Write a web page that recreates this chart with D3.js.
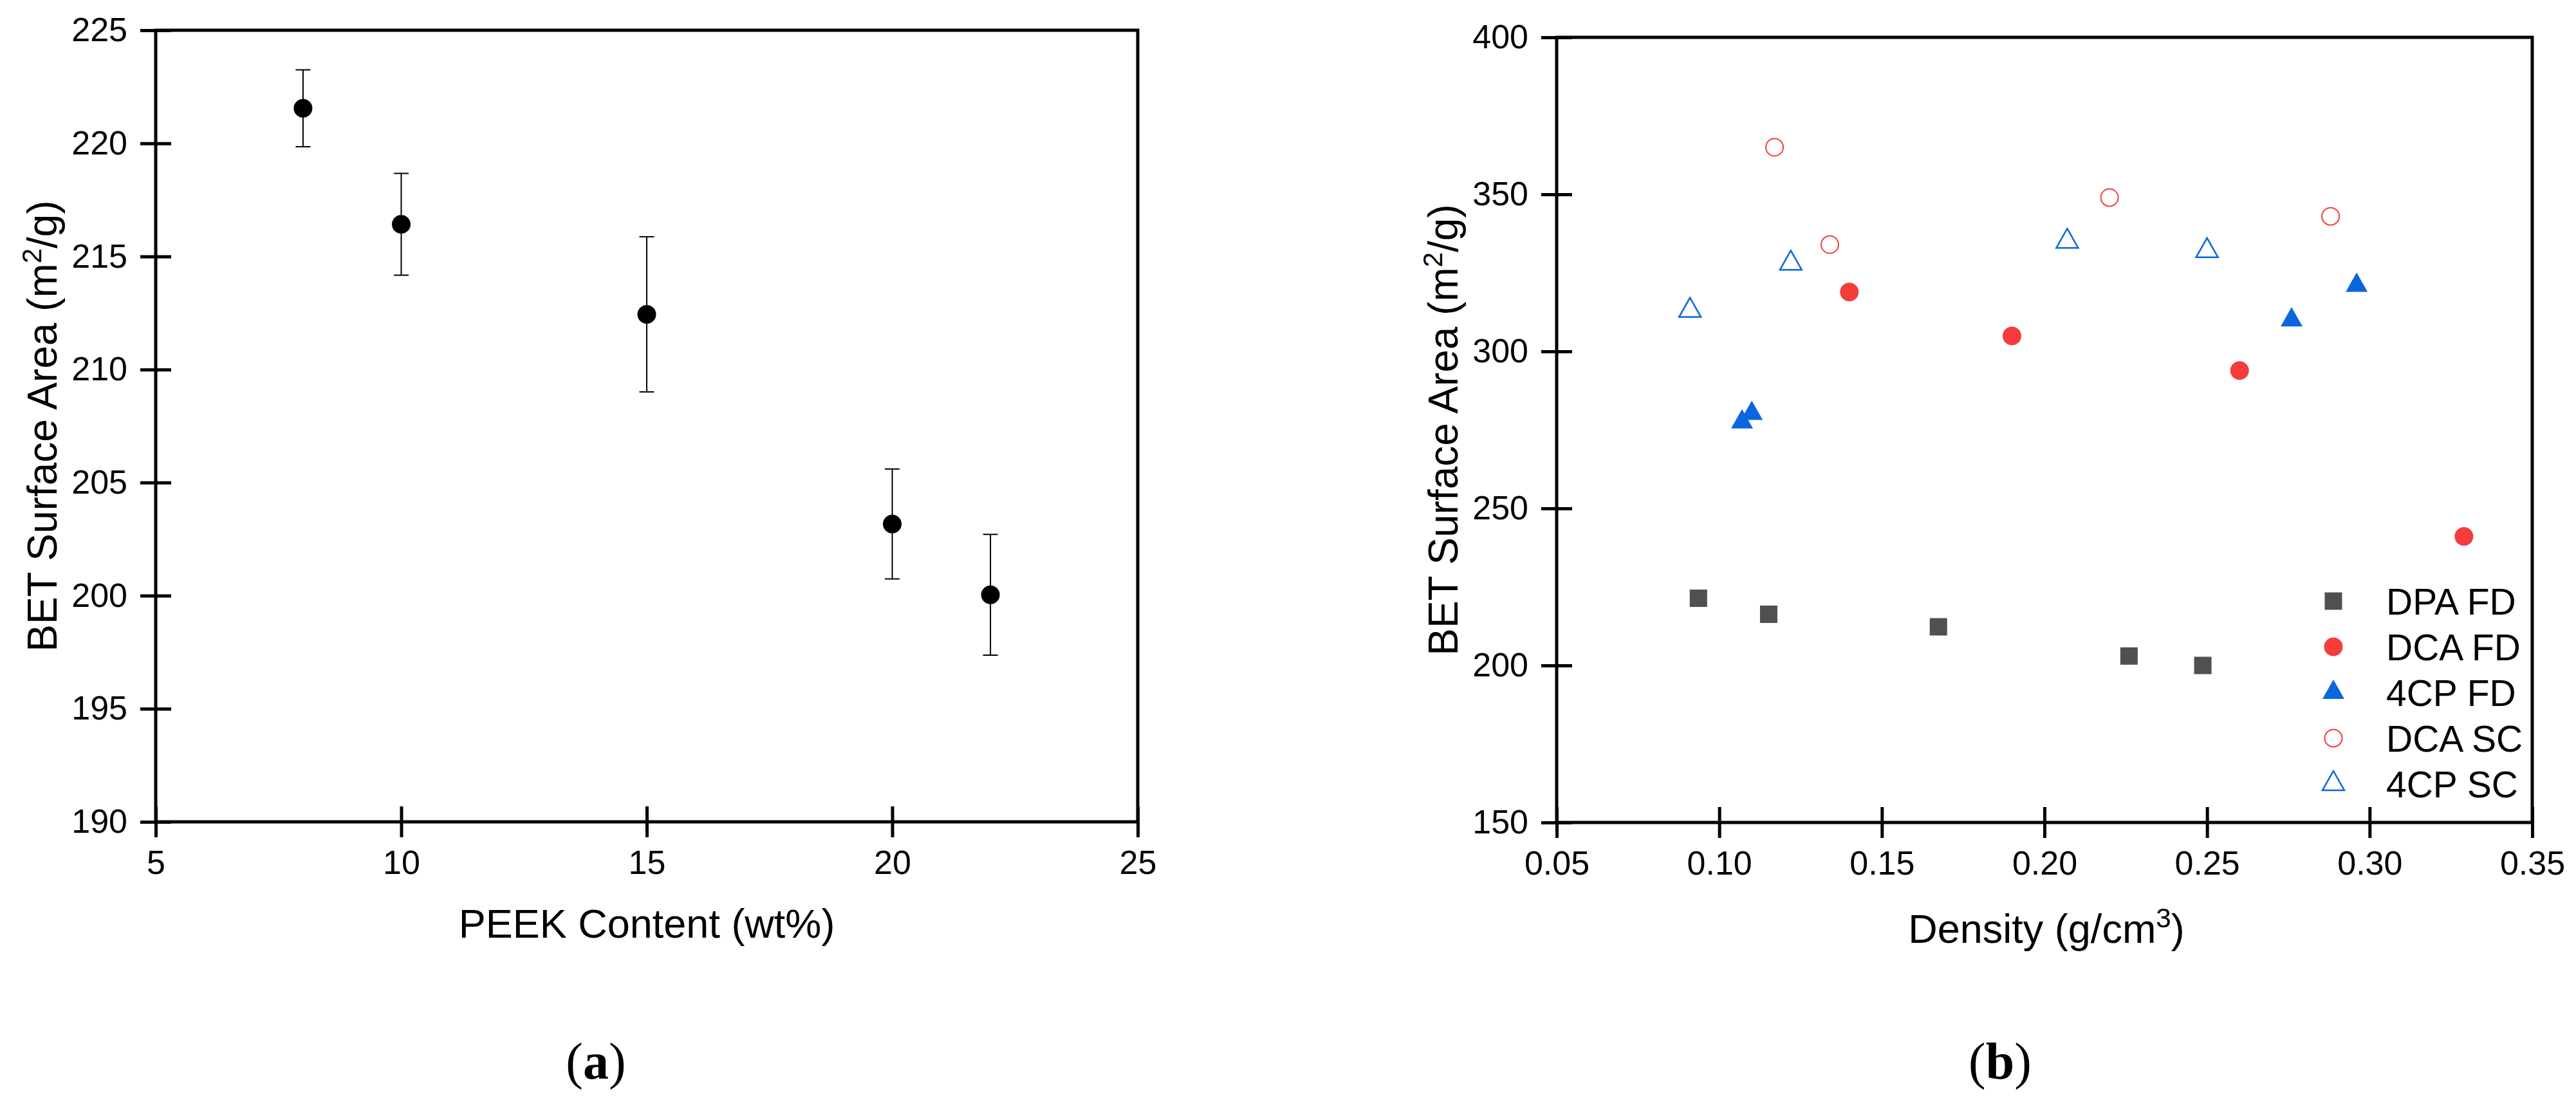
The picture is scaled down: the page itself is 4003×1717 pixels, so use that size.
<!DOCTYPE html>
<html><head><meta charset="utf-8">
<script src="https://cdn.jsdelivr.net/npm/d3@7"></script>
<style>
body{margin:0;background:#fff}
text{font-family:"Liberation Sans",Arial,sans-serif;fill:#000}
</style>
</head><body><svg id="c" width="4003" height="1717" xmlns="http://www.w3.org/2000/svg"></svg>
<script>
// ---------- data: panel (a) ----------
const peekContent = [8, 10, 15, 20, 22];
const peekBET     = [221.55, 216.42, 212.44, 203.17, 200.04];
const peekErr     = [1.70, 2.25, 3.43, 2.43, 2.67];
const xTicksA = [5, 10, 15, 20, 25];
const yTicksA = [190, 195, 200, 205, 210, 215, 220, 225];

// ---------- data: panel (b) ----------
const seriesNames = ["DPA FD", "DCA FD", "4CP FD", "DCA SC", "4CP SC"];
const dpaFdDensity = [0.0936, 0.1152, 0.1674, 0.226, 0.2487];
const dpaFdBET     = [221.4, 216.3, 212.3, 203.0, 200.0];
const dcaFdDensity = [0.140, 0.190, 0.260, 0.329];
const dcaFdBET     = [318.9, 304.9, 293.9, 241.1];
const cp4FdDensity = [0.107, 0.110, 0.276, 0.296];
const cp4FdBET     = [277.5, 280.2, 310.0, 321.0];
const dcaScDensity = [0.117, 0.134, 0.220, 0.288];
const dcaScBET     = [365.0, 334.0, 349.0, 343.0];
const cp4ScDensity = [0.091, 0.122, 0.207, 0.250];
const cp4ScBET     = [313.0, 328.0, 335.0, 332.0];
const xTicksB = [0.05, 0.10, 0.15, 0.20, 0.25, 0.30, 0.35];
const yTicksB = [150, 200, 250, 300, 350, 400];

const svg = d3.select("#c");
svg.append("rect").attr("width", 4003).attr("height", 1717).attr("fill", "#fff");

const TICK = 24, AXW = 5, TICKFS = 52;

function frame(g, x, y) {
  const [x0, x1] = x.range(), [y1, y0] = y.range();
  g.append("rect").attr("x", x0).attr("y", y0).attr("width", x1 - x0).attr("height", y1 - y0)
    .attr("fill", "none").attr("stroke", "#000").attr("stroke-width", AXW);
}
function axes(g, x, y, xt, yt, xf, yf) {
  const [y1] = y.range(), [x0] = x.range();
  const ax = g.append("g").attr("transform", `translate(0,${y1})`)
    .call(d3.axisBottom(x).tickValues(xt).tickFormat(xf).tickSize(TICK).tickPadding(20));
  ax.select(".domain").remove();
  ax.selectAll(".tick line").attr("y1", -TICK).attr("stroke-width", AXW);
  ax.selectAll("text").attr("font-size", TICKFS).attr("font-family", "Liberation Sans, Arial, sans-serif");
  const ay = g.append("g").attr("transform", `translate(${x0},0)`)
    .call(d3.axisLeft(y).tickValues(yt).tickFormat(yf).tickSize(TICK).tickPadding(20));
  ay.select(".domain").remove();
  ay.selectAll(".tick line").attr("x1", TICK).attr("stroke-width", AXW);
  ay.selectAll("text").attr("font-size", TICKFS).attr("font-family", "Liberation Sans, Arial, sans-serif");
}
function yLabel(g, xBase, yc) {
  const t = g.append("text").attr("transform", `translate(${xBase},${yc}) rotate(-90)`)
    .attr("text-anchor", "middle").attr("font-size", 64);
  t.append("tspan").text("BET Surface Area (m");
  t.append("tspan").attr("dy", -24).attr("font-size", 42).text("2");
  t.append("tspan").attr("dy", 24).text("/g)");
}

// ---------- panel (a) ----------
const gA = svg.append("g");
const xA = d3.scaleLinear().domain([5, 25]).range([242, 1768]);
const yA = d3.scaleLinear().domain([190, 225]).range([1277, 47]);
frame(gA, xA, yA);
axes(gA, xA, yA, xTicksA, yTicksA, d3.format("d"), d3.format("d"));

const ptsA = peekContent.map((c, i) => ({x: c, y: peekBET[i], e: peekErr[i]}));
const eb = gA.append("g").attr("stroke", "#000").attr("stroke-width", 2);
ptsA.forEach(d => {
  const cx = xA(d.x);
  eb.append("line").attr("x1", cx).attr("x2", cx).attr("y1", yA(d.y + d.e)).attr("y2", yA(d.y - d.e));
  eb.append("line").attr("x1", cx - 11.5).attr("x2", cx + 11.5).attr("y1", yA(d.y + d.e)).attr("y2", yA(d.y + d.e));
  eb.append("line").attr("x1", cx - 11.5).attr("x2", cx + 11.5).attr("y1", yA(d.y - d.e)).attr("y2", yA(d.y - d.e));
});
gA.append("g").selectAll("circle").data(ptsA).join("circle")
  .attr("cx", d => xA(d.x)).attr("cy", d => yA(d.y)).attr("r", 14.5).attr("fill", "#000");

yLabel(gA, 88, 662);
gA.append("text").attr("x", 1005).attr("y", 1457).attr("text-anchor", "middle").attr("font-size", 63)
  .text("PEEK Content (wt%)");
const la = gA.append("text").attr("x", 926).attr("y", 1676).attr("text-anchor", "middle")
  .attr("font-size", 80).style("font-family", "Liberation Serif, Times New Roman, serif");
la.append("tspan").text("(");
la.append("tspan").attr("font-weight", "bold").text("a");
la.append("tspan").text(")");

// ---------- panel (b) ----------
const gB = svg.append("g");
const xB = d3.scaleLinear().domain([0.05, 0.35]).range([2419, 3935]);
const yB = d3.scaleLinear().domain([150, 400]).range([1278, 58]);
frame(gB, xB, yB);
axes(gB, xB, yB, xTicksB, yTicksB, d3.format(".2f"), d3.format("d"));

const GREY = "#505050", RED = "#f43c3c", BLUE = "#0a66de";
const triPath = "M0,-20L17,10L-17,10Z";
const styles = [
  {kind: "square", fill: GREY, stroke: "none"},
  {kind: "circle", fill: RED, stroke: "none"},
  {kind: "tri", fill: BLUE, stroke: "none"},
  {kind: "circle", fill: "none", stroke: RED},
  {kind: "tri", fill: "none", stroke: BLUE}
];
const seriesX = [dpaFdDensity, dcaFdDensity, cp4FdDensity, dcaScDensity, cp4ScDensity];
const seriesY = [dpaFdBET, dcaFdBET, cp4FdBET, dcaScBET, cp4ScBET];

function marker(g, st, cx, cy) {
  if (st.kind === "square") {
    g.append("rect").attr("x", cx - 13.5).attr("y", cy - 13.5).attr("width", 27).attr("height", 27).attr("fill", st.fill);
  } else if (st.kind === "circle") {
    g.append("circle").attr("cx", cx).attr("cy", cy).attr("r", st.fill === "none" ? 13.5 : 14.5)
      .attr("fill", st.fill).attr("stroke", st.stroke).attr("stroke-width", 2);
  } else {
    g.append("path").attr("d", triPath).attr("transform", `translate(${cx},${cy})`)
      .attr("fill", st.fill).attr("stroke", st.stroke).attr("stroke-width", 2.5);
  }
}
const mk = gB.append("g");
seriesNames.forEach((name, s) => {
  seriesX[s].forEach((xv, i) => marker(mk, styles[s], xB(xv), yB(seriesY[s][i])));
});

// legend
const lg = gB.append("g");
seriesNames.forEach((name, s) => {
  const ry = 934 + s * 71;
  marker(lg, styles[s], 3626, ry);
  lg.append("text").attr("x", 3708).attr("y", ry + 20.5).attr("font-size", 57).text(name);
});

yLabel(gB, 2265, 668);
const xl = gB.append("text").attr("x", 3180).attr("y", 1465).attr("text-anchor", "middle").attr("font-size", 63);
xl.append("tspan").text("Density (g/cm");
xl.append("tspan").attr("dy", -24).attr("font-size", 42).text("3");
xl.append("tspan").attr("dy", 24).text(")");
const lb = gB.append("text").attr("x", 3108).attr("y", 1676).attr("text-anchor", "middle")
  .attr("font-size", 80).style("font-family", "Liberation Serif, Times New Roman, serif");
lb.append("tspan").text("(");
lb.append("tspan").attr("font-weight", "bold").text("b");
lb.append("tspan").text(")");
</script>
</body></html>
